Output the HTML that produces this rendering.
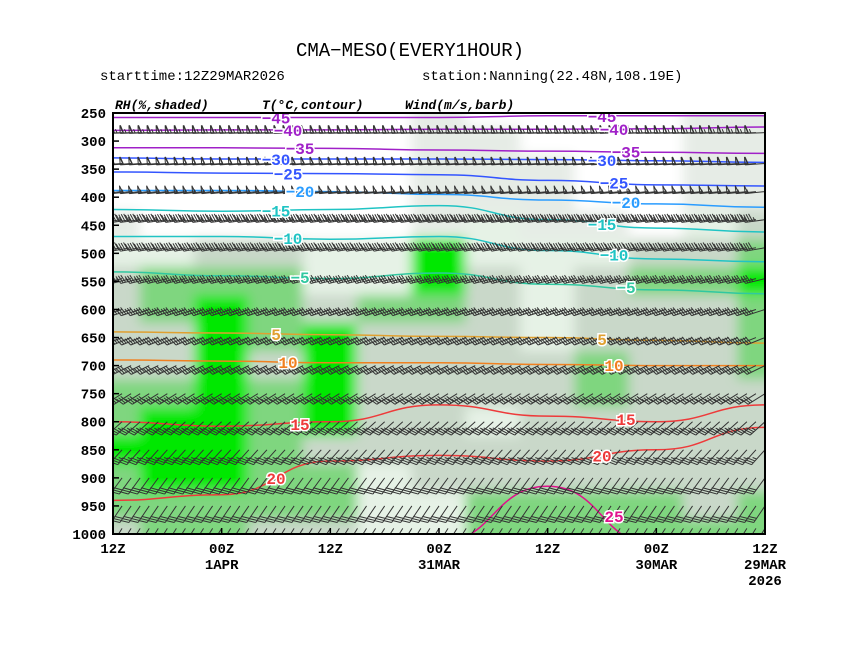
<!DOCTYPE html>
<html><head><meta charset="utf-8"><style>
body{margin:0;background:#fff;width:841px;height:650px;overflow:hidden}
svg text{font-family:"Liberation Mono",monospace}
</style></head><body>
<svg id="chart" width="841" height="650" viewBox="0 0 841 650" xmlns="http://www.w3.org/2000/svg">
<defs>
<clipPath id="pc"><rect x="113" y="113" width="652" height="421"/></clipPath>
<filter id="bl" filterUnits="userSpaceOnUse" x="60" y="60" width="760" height="530"><feGaussianBlur stdDeviation="6"/></filter>
</defs>
<text x="410" y="56" font-size="19" text-anchor="middle">CMA−MESO(EVERY1HOUR)</text>
<text x="100" y="80" font-size="14">starttime:12Z29MAR2026</text>
<text x="422" y="80" font-size="14">station:Nanning(22.48N,108.19E)</text>
<text x="115" y="109" font-size="13" font-style="italic" font-weight="bold">RH(%,shaded)</text>
<text x="262" y="109" font-size="13" font-style="italic" font-weight="bold">T(°C,contour)</text>
<text x="405" y="109" font-size="13" font-style="italic" font-weight="bold">Wind(m/s,barb)</text>
<g id="plot" clip-path="url(#pc)"><rect x="113" y="113" width="652" height="421" fill="#fff"/>
<g id="rh" filter="url(#bl)"></g><g id="temps"></g><g id="barbs"></g><g id="tlabels"></g></g>
<rect x="113" y="113" width="652" height="421" fill="none" stroke="#000" stroke-width="2"/>
<g id="axes"></g>
</svg>
<script>
const levels=[250,300,350,400,450,500,550,600,650,700,750,800,850,900,950,1000];
const timeTicks=["12Z","00Z","12Z","00Z","12Z","00Z","12Z"];
const dateTicks=["","1APR","","31MAR","","30MAR","29MAR"];
const rh250=[10,10,10,10,10,10,30,10,10,10,10,30,30];
const rh300=[10,10,10,10,10,10,30,30,10,10,10,30,30];
const rh350=[10,10,10,10,10,10,30,30,30,10,10,30,30];
const rh400=[10,10,10,10,10,10,30,30,30,10,10,30,30];
const rh450=[30,10,10,10,10,10,30,60,30,30,10,60,75];
const rh500=[60,60,75,75,60,60,95,60,60,60,75,75,92];
const rh550=[75,92,92,92,60,60,95,75,60,75,92,92,96];
const rh600=[80,92,96,92,80,92,92,80,60,80,80,80,92];
const rh650=[80,80,96,92,96,80,80,80,60,80,80,80,92];
const rh700=[80,80,96,80,96,80,80,80,80,92,80,80,92];
const rh750=[92,92,96,92,96,80,80,80,80,92,80,80,80];
const rh800=[92,96,96,92,96,80,80,60,80,80,80,80,80];
const rh850=[96,96,96,92,80,80,80,80,80,80,80,80,80];
const rh900=[92,96,96,92,92,60,80,80,80,80,80,80,80];
const rh950=[92,92,92,92,92,60,60,92,92,92,92,80,92];
const rh1000=[80,92,92,80,80,60,60,92,92,92,92,92,92];
const rhGrid=[rh250,rh300,rh350,rh400,rh450,rh500,rh550,rh600,rh650,rh700,rh750,rh800,rh850,rh900,rh950,rh1000];
const tempValues=[-45,-40,-35,-30,-25,-20,-15,-10,-5,5,10,15,20,25];
const tP1=[258,258,258,258,255,255,255];
const tP2=[281,280,280,279,279,278,275];
const tP3=[312,312,313,316,318,320,322];
const tP4=[330,332,332,332,333,335,338];
const tP5=[355,357,358,360,370,378,380];
const tP6=[388,388,390,395,405,412,418];
const tP7=[422,425,422,415,440,455,462];
const tP8=[470,470,475,470,495,510,515];
const tP9=[533,540,545,535,555,565,572];
const tP10=[640,642,645,648,650,655,660];
const tP11=[690,692,695,695,698,700,700];
const tP12=[800,808,800,770,790,800,770];
const tP13=[940,930,870,860,870,850,810];
const tP14=[1020,1020,1020,1015,915,1020,1020];
const tempPress=[tP1,tP2,tP3,tP4,tP5,tP6,tP7,tP8,tP9,tP10,tP11,tP12,tP13,tP14];
const barbLevels=[285,340,390,440,490,545,600,650,700,750,800,850,900,950,990];
const windDir=[268,266,264,262,260,256,252,248,244,238,228,222,216,214,212];
const windSpd=[26,24,22,18,16,14,14,12,12,12,14,14,12,12,10];

const X0=113,X1=765,Y0=113,Y1=534,NS="http://www.w3.org/2000/svg";
const xT=f=>X0+f*(X1-X0);
const yP=p=>Y0+(p-250)/750*(Y1-Y0);
function mk(tag,at,par){const e=document.createElementNS(NS,tag);for(const k in at)e.setAttribute(k,at[k]);par.appendChild(e);return e;}
function rhColor(v){if(v>=95)return"#00e800";if(v>=90)return"#7fd67f";if(v>=70)return"#c9d8c9";if(v>=50)return"#e6f2e6";if(v>=20)return"#e6ece6";return"#ffffff";}
const rhG=document.getElementById('rh');
const nc=rhGrid[0].length,cw=(X1-X0)/(nc-1),ch=(Y1-Y0)/(levels.length-1);
rhGrid.forEach((row,j)=>row.forEach((v,i)=>{
 let x=xT(i/(nc-1))-cw/2-0.5,y=yP(levels[j])-ch/2-0.5,w=cw+1,h=ch+1;
 if(i===0){x-=30;w+=30;} if(i===nc-1){w+=30;} if(j===0){y-=30;h+=30;} if(j===levels.length-1){h+=30;}
 const r=mk('rect',{x:x,y:y,width:w,height:h,fill:rhColor(v)},rhG);
 
 
}));
const tcol=v=>v<=-35?"#a020c8":v<=-25?"#3355ff":v<=-20?"#2a9cff":v<=-10?"#20c4c4":v<0?"#30c8a0":v<=5?"#e0a030":v<=10?"#f08020":v<=20?"#ee3a3a":"#e0108c";
const tG=document.getElementById('temps'),lG=document.getElementById('tlabels');
tempPress.forEach((ps,k)=>{
 const n=ps.length;
 const pts=ps.map((p,i)=>[xT(i/(n-1)),yP(p)]);
 let d="M"+pts[0][0]+","+pts[0][1];
 for(let i=1;i<n;i++){const a=pts[i-1],b=pts[i],mx=(a[0]+b[0])/2;d+=` C${mx},${a[1]} ${mx},${b[1]} ${b[0]},${b[1]}`;}
 const c=tcol(tempValues[k]);
 const pth=mk('path',{d:d,fill:"none",stroke:c,"stroke-width":1.5},tG);
 
 
 [1,4].forEach(li=>{const lx=(pts[li][0]+pts[li+1][0])/2+(k%3)*12,ly=(pts[li][1]+pts[li+1][1])/2;
  if(ly>Y1-5)return;
  const t=mk('text',{x:lx,y:ly+6,"font-size":16,"font-weight":"bold",fill:c,"text-anchor":"middle",stroke:"#fff","stroke-width":3,"paint-order":"stroke"},lG);
  t.textContent=tempValues[k]<0?"−"+(-tempValues[k]):tempValues[k];
  
  });
});
const bG=document.getElementById('barbs');
barbLevels.forEach((p,j)=>{
 const y=yP(p),dir=windDir[j]*Math.PI/180,s=windSpd[j];
 const sx=Math.sin(dir),sy=-Math.cos(dir);
 const px=-sy,py=sx;
 for(let h=0;h<=72;h++){
  const x=xT(h/72),L=20;
  let d=`M${x},${y} L${x+sx*L},${y+sy*L}`;
  let rem=s,pos=L;
  while(rem>=20){d+=` M${x+sx*pos},${y+sy*pos} L${x+sx*pos+px*8},${y+sy*pos+py*8} L${x+sx*(pos-3)},${y+sy*(pos-3)}`;pos-=3.5;rem-=20;}
  while(rem>=4){d+=` M${x+sx*pos},${y+sy*pos} l${px*8+sx*3},${py*8+sy*3}`;pos-=2.5;rem-=4;}
  if(rem>=2){d+=` M${x+sx*pos},${y+sy*pos} l${px*4+sx*1.5},${py*4+sy*1.5}`;}
  const b=mk('path',{d:d,fill:"none",stroke:"#333","stroke-width":1},bG);
  
  
 }
});
const ax=document.getElementById('axes');
levels.forEach(p=>{
 const t=mk('text',{x:106,y:yP(p)+5,"font-size":14,"font-weight":"bold","text-anchor":"end"},ax);t.textContent=p;
 
 
 mk('line',{x1:113,x2:119,y1:yP(p),y2:yP(p),stroke:"#000","stroke-width":1.5},ax);
});
timeTicks.forEach((lab,i)=>{
 const x=xT(i/(timeTicks.length-1));
 mk('line',{x1:x,x2:x,y1:Y1,y2:Y1-6,stroke:"#000","stroke-width":1.5},ax);
 const t=mk('text',{x:x,y:553,"font-size":14,"font-weight":"bold","text-anchor":"middle"},ax);t.textContent=lab;
 
 
 if(dateTicks[i]){const d=mk('text',{x:x,y:569,"font-size":14,"font-weight":"bold","text-anchor":"middle"},ax);d.textContent=dateTicks[i];
 
 }
});
const yr=mk('text',{x:765,y:585,"font-size":14,"font-weight":"bold","text-anchor":"middle"},ax);yr.textContent="2026";


</script>
</body></html>
